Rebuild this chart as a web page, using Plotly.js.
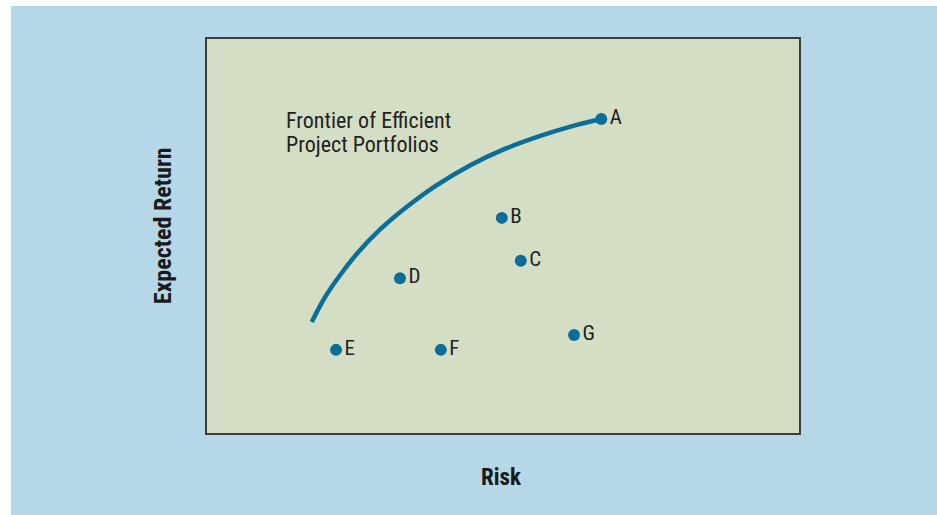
<!DOCTYPE html>
<html>
<head>
<meta charset="utf-8">
<script src="https://cdn.plot.ly/plotly-3.0.1.min.js"></script>
<style>
  html, body { margin: 0; padding: 0; background: #ffffff; width: 937px; height: 515px; overflow: hidden; }
  #chart { position: absolute; left: 11px; top: 6px; width: 926px; height: 509px; }
</style>
</head>
<body>
<div id="chart"></div>
<script>
// Frontier curve (risk, expected return), arbitrary 0-10 units
const frontierRisk   = [1.77, 1.99, 2.25, 2.55, 2.92, 3.35, 3.85, 4.44, 5.03, 5.63, 6.17, 6.66];
const frontierReturn = [2.82, 3.44, 4.01, 4.58, 5.16, 5.71, 6.26, 6.79, 7.21, 7.54, 7.79, 7.97];

// Project portfolios
const portfolioLabels = ["A", "B", "C", "D", "E", "F", "G"];
const portfolioRisk   = [6.66, 4.98, 5.30, 3.26, 2.18, 3.95, 6.20];
const portfolioReturn = [7.97, 5.46, 4.37, 3.93, 2.11, 2.11, 2.49];

// Caption lines
const captionLines = ["Frontier of Efficient", "Project Portfolios"];

const FONT = "'Liberation Sans Narrow', 'Arial Narrow', 'Roboto Condensed', 'Liberation Sans', sans-serif";
const BLUE = "#0a6e99";

const traces = [
  {
    x: frontierRisk, y: frontierReturn, type: "scatter", mode: "lines",
    line: { color: BLUE, width: 4.5, shape: "spline", smoothing: 1 },
    hoverinfo: "skip", showlegend: false
  },
  {
    x: portfolioRisk, y: portfolioReturn, text: portfolioLabels,
    type: "scatter", mode: "markers+text", textposition: "middle right",
    marker: { color: BLUE, size: 12 },
    textfont: { family: FONT, size: 21, color: "#222222" },
    showlegend: false
  }
];

const axisCommon = {
  range: [0, 10], showgrid: false, zeroline: false, showticklabels: false, ticks: "",
  showline: true, mirror: true, linecolor: "#3c3c3c", linewidth: 2, fixedrange: true
};

const captionY = [7.92, 7.31];

const layout = {
  width: 926, height: 509,
  margin: { l: 196, r: 138, t: 33, b: 82, pad: 0 },
  paper_bgcolor: "#b5d7e7",
  plot_bgcolor: "#d4dec5",
  xaxis: Object.assign({}, axisCommon),
  yaxis: Object.assign({}, axisCommon),
  showlegend: false,
  annotations: captionLines.map((t, i) => ({
      x: 1.30, y: captionY[i], xref: "x", yref: "y", xanchor: "left", yanchor: "middle",
      text: t, showarrow: false, align: "left",
      font: { family: FONT, size: 22, color: "#222222" }
    })).concat([
    {
      x: 0.498, y: -0.114, xref: "paper", yref: "paper", xanchor: "center", yanchor: "middle",
      text: "<b>Risk</b>", showarrow: false,
      font: { family: FONT, size: 23, color: "#1a1a1a" }
    },
    {
      x: -0.074, y: 0.525, xref: "paper", yref: "paper", xanchor: "center", yanchor: "middle",
      text: "<b>Expected Return</b>", showarrow: false, textangle: -90,
      font: { family: FONT, size: 24, color: "#1a1a1a" }
    }
  ])
};

Plotly.newPlot("chart", traces, layout, { displayModeBar: false, staticPlot: true });
</script>
</body>
</html>
